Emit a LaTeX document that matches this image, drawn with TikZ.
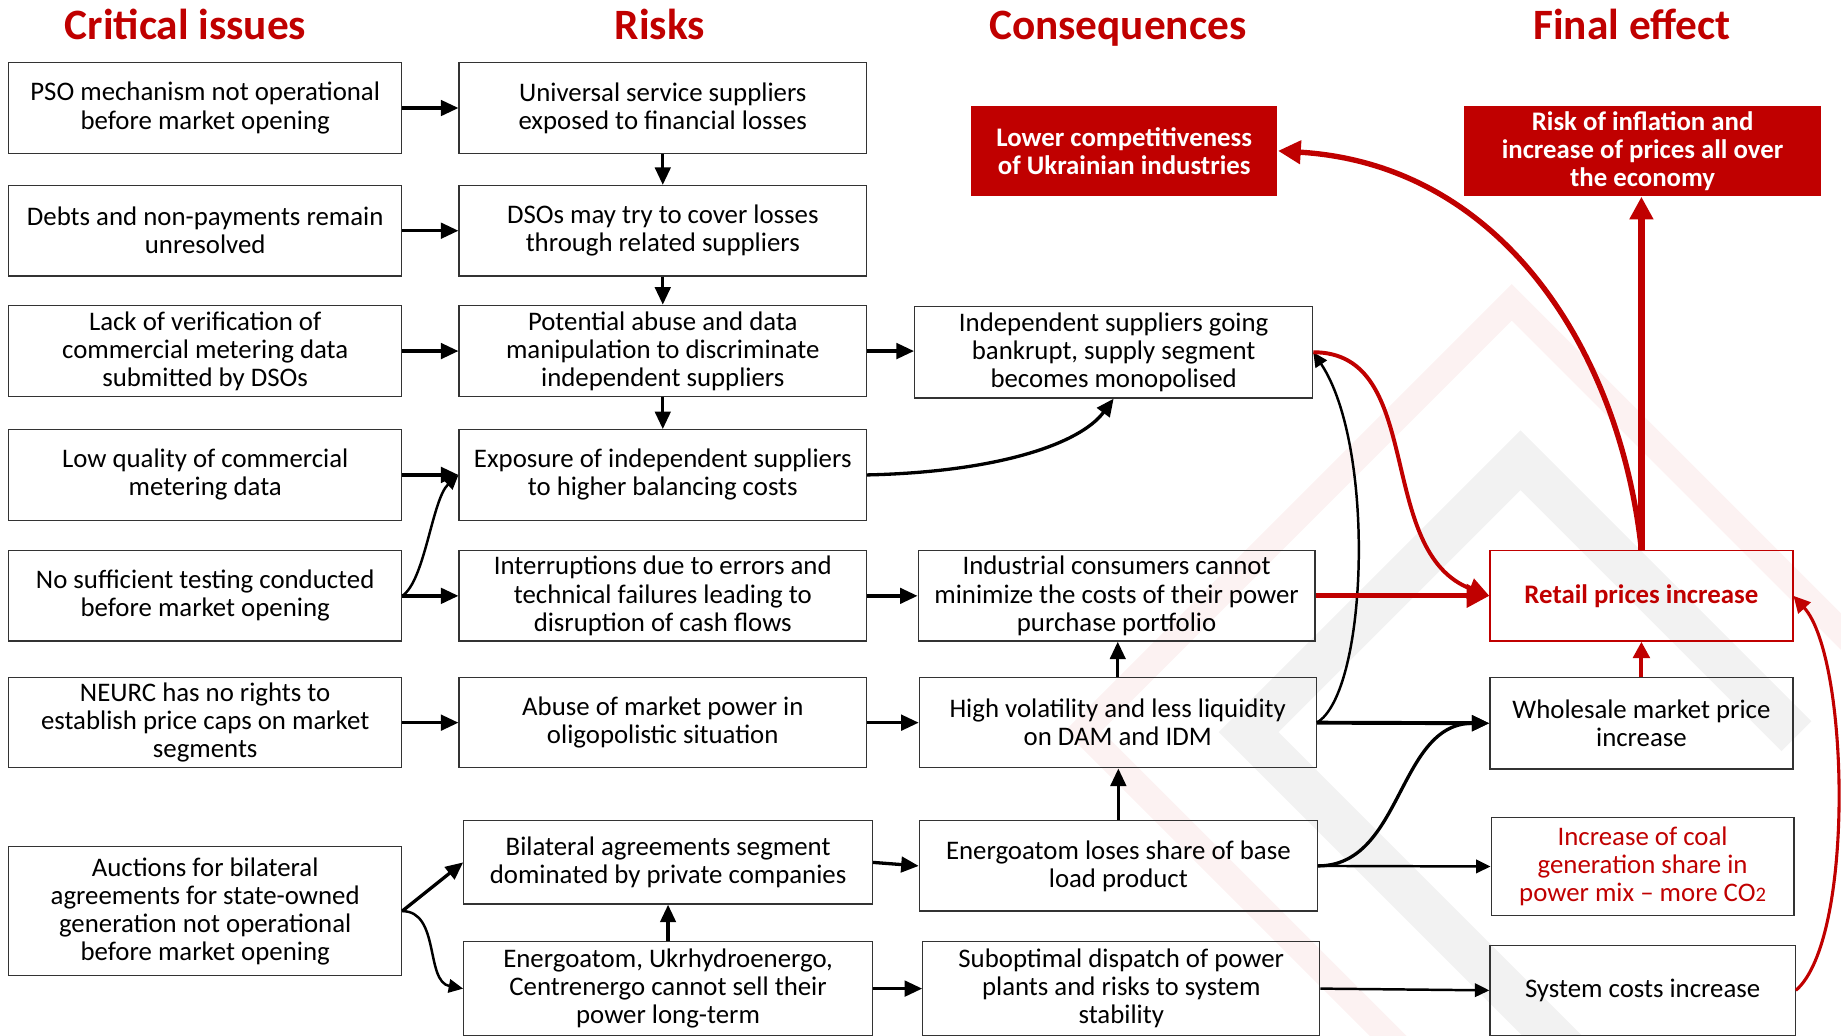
\documentclass[tikz,border=0pt]{standalone}
\usepackage{fontspec}
\setmainfont{Carlito}
\usetikzlibrary{arrows.meta}
\definecolor{darkred}{HTML}{C00000}
\definecolor{markpink}{HTML}{FCF2F2}
\definecolor{markgrey}{HTML}{F2F2F2}

\begin{document}
\begin{tikzpicture}[x=0.02cm, y=-0.02cm,
    font=\fontsize{13}{13.6}\selectfont,
    box/.style 2 args={draw=black!80, line width=0.6pt, align=center, inner sep=1pt,
      minimum width=#1*0.02cm, minimum height=#2*0.02cm},
    redbox/.style 2 args={box={#1}{#2}, draw=none, fill=darkred, text=white,
      font=\fontsize{13}{13.6}\selectfont\bfseries},
    title/.style={text=darkred, font=\fontsize{21}{23}\selectfont\bfseries, anchor=base},
    blk/.style={-{Triangle[length=8.5pt,width=7.5pt]}, line width=1.6pt},
    blkthin/.style={-{Triangle[length=7pt,width=6.5pt]}, line width=1.2pt},
    redarr/.style={-{Triangle[length=#1,width=#1]}, draw=darkred},
  ]
    \useasboundingbox (0,0) rectangle (1568,882);

    % watermark
    \begin{scope}
      \clip (0,0) rectangle (1568,882);
      \draw[markpink, line width=0.44cm] (1220,920) -- (922.5,622.5) -- (1287.5,257.5) -- (1600,570);
      \draw[markgrey, line width=0.72cm] (1360,920) -- (1063.5,623.5) -- (1295,392) -- (1530,627);
    \end{scope}

    % column titles
    \node[title] (tcrit) at (158,34) {Critical issues};
    \node[title] (trisk) at (562,34) {Risks};
    \node[title] (tcons) at (952,34) {Consequences};
    \node[title] (tfin) at (1390,34) {Final effect};

    % critical issues
    \node[box={334.5}{78}] (pso) at (174.75,92) {PSO mechanism not operational\\before market opening};
    \node[box={334.5}{77}] (debts) at (174.75,196.5) {Debts and non-payments remain\\unresolved};
    \node[box={334.5}{78}] (lack) at (174.75,299) {Lack of verification of\\commercial metering data\\submitted by DSOs};
    \node[box={334.5}{77}] (lowq) at (174.75,404.5) {Low quality of commercial\\metering data};
    \node[box={334.5}{77}] (notest) at (174.75,507.5) {No sufficient testing conducted\\before market opening};
    \node[box={334.5}{77}] (neurc) at (174.75,615.5) {NEURC has no rights to\\establish price caps on market\\segments};
    \node[box={334.5}{110}] (auct) at (174.75,776) {Auctions for bilateral\\agreements for state-owned\\generation not operational\\before market opening};

    % risks
    \node[box={347}{78}] (usl) at (564.5,92) {Universal service suppliers\\exposed to financial losses};
    \node[box={347}{77}] (dso) at (564.5,196.5) {DSOs may try to cover losses\\through related suppliers};
    \node[box={347}{78}] (manip) at (564.5,299) {Potential abuse and data\\manipulation to discriminate\\independent suppliers};
    \node[box={347}{77}] (expo) at (564.5,404.5) {Exposure of independent suppliers\\to higher balancing costs};
    \node[box={347}{77}] (interr) at (564.5,507.5) {Interruptions due to errors and\\technical failures leading to\\disruption of cash flows};
    \node[box={347}{77}] (mktpower) at (564.5,615.5) {Abuse of market power in\\oligopolistic situation};
    \node[box={348}{71}] (bilat) at (569,734.5) {Bilateral agreements segment\\dominated by private companies};
    \node[box={348}{80}] (gencos) at (569,842) {Energoatom, Ukrhydroenergo,\\Centrenergo cannot sell their\\power long-term};

    % consequences
    \node[redbox={261}{77}] (lowcomp) at (957.5,128.5) {Lower competitiveness\\of Ukrainian industries};
    \node[box={339}{78}] (bankrupt) at (948.5,300) {Independent suppliers going\\bankrupt, supply segment\\becomes monopolised};
    \node[box={338}{77}] (industr) at (951,507.5) {Industrial consumers cannot\\minimize the costs of their power\\purchase portfolio};
    \node[box={338}{77}] (volat) at (952,615.5) {High volatility and less liquidity\\on DAM and IDM};
    \node[box={339}{77}] (eshare) at (952.5,737.5) {Energoatom loses share of base\\load product};
    \node[box={338}{80}] (dispatch) at (955,842) {Suboptimal dispatch of power\\plants and risks to system\\stability};

    % final effect
    \node[redbox={304}{77}] (inflat) at (1399,128.5) {Risk of inflation and\\increase of prices all over\\the economy};
    \node[box={258}{77}, draw=darkred, text=darkred, font=\fontsize{13}{13.6}\selectfont\bfseries] (retail) at (1398,507.5) {Retail prices increase};
    \node[box={258}{78}] (wholes) at (1398,616) {Wholesale market price\\increase};
    \node[box={258}{84}, text=darkred] (coal) at (1399,738) {Increase of coal\\generation share in\\power mix -- more CO{\fontsize{10}{10}\selectfont 2}};
    \node[box={260}{77}] (syscost) at (1399,843.5) {System costs increase};

    % issues -> risks
    \foreach \a/\b in {pso/usl, debts/dso, lack/manip, lowq/expo, notest/interr, neurc/mktpower}
      \draw[blk] (\a) -- (\b);
    \draw[blkthin] (notest.east) .. controls (362,495) and (368,425) .. (expo.west);
    \draw[blk] (auct.east) -- (bilat.west);
    \draw[blkthin] (auct.east) .. controls (375,776) and (362,836) .. (gencos.west);

    % risks -> risks
    \foreach \a/\b in {usl/dso, dso/manip, manip/expo, gencos/bilat}
      \draw[blk] (\a) -- (\b);

    % risks -> consequences
    \draw[blk] (manip.east) -- (manip.east -| bankrupt.west);
    \draw[blk] (expo.east) .. controls (850,402) and (920,378) .. (bankrupt.south);
    \draw[blk] (interr) -- (industr);
    \draw[blk] (mktpower) -- (volat);
    \draw[blk] (bilat.east) -- (eshare.west);
    \draw[blk] (gencos.east) -- (dispatch.west);
    \draw[blk] (volat.north) -- (volat.north |- industr.south);
    \draw[blk] (eshare.north) -- (eshare.north |- volat.south);
    \draw[blkthin] (volat.east) .. controls (1165,590) and (1172,380) .. (bankrupt.east);

    % consequences -> final effect
    \draw[blk, line width=1.9pt] (volat.east) -- (wholes.west);
    \draw[blk] (eshare.east) .. controls (1195,737.5) and (1190,616) .. (wholes.west);
    \draw[blkthin] (eshare.east) -- (coal.west);
    \draw[blkthin] (dispatch.east) -- (syscost.west);

    % red links
    \draw[redarr=10pt, line width=1.9pt] (bankrupt.east) .. controls (1215,300) and (1170,470) .. (retail.west);
    \draw[redarr=11pt, line width=2.5pt] (industr) -- (retail);
    \draw[redarr=8pt, line width=2pt] (wholes) -- (retail);
    \draw[redarr=11pt, line width=3pt] (retail.north) -- (retail.north |- inflat.south);
    \draw[redarr=11pt, line width=2.6pt] (retail.north) .. controls (1380,300) and (1280,140) .. (lowcomp.east);
    \draw[redarr=8pt, line width=1.5pt] (syscost.east) .. controls (1580,800) and (1575,560) .. (retail.east);
\end{tikzpicture}
\end{document}
